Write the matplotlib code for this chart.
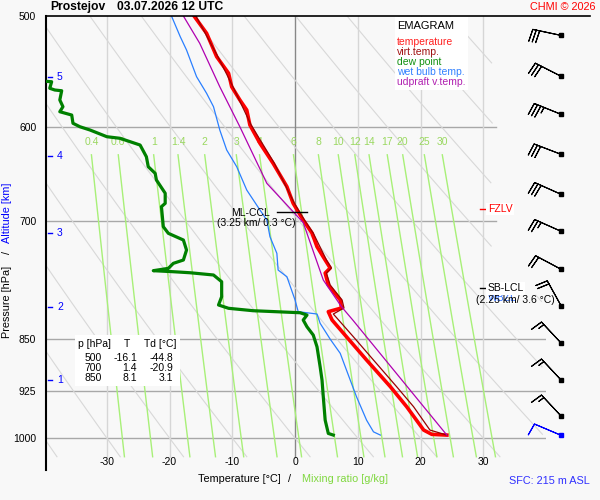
import numpy as np
import matplotlib
matplotlib.use('Agg')
import matplotlib.pyplot as plt
from matplotlib.lines import Line2D
from matplotlib.patches import Rectangle
from matplotlib.ticker import NullLocator

plt.rcParams['font.family'] = ['Liberation Sans', 'DejaVu Sans']

# temperature [C] vs pressure [hPa]
t_p = [500, 514.4, 534.5, 549.3, 561.6, 573.9, 583.5, 598.0, 616.2, 636.8, 661.7, 680.1, 699.0,
       714.1, 730.3, 746.4, 756.3, 762.6, 777.7, 797.1, 807.6, 812.5, 823.7, 846.7, 879.6,
       919.1, 949.8, 986.8, 993.8, 995.0]
t_val = [-16.1, -14.1, -12.5, -10.6, -10.1, -8.8, -7.7, -7.2, -5.6, -3.5, -1.3, -0.3, 1.3,
         2.7, 3.5, 4.8, 5.6, 4.8, 5.3, 7.2, 7.4, 5.3, 5.9, 8.2, 11.4,
         15.2, 17.8, 20.5, 21.8, 24.2]

# virtual temperature
tv_p = [500, 534.5, 561.6, 598.0, 636.8, 680.1, 699.0, 714.1, 746.4, 756.3, 762.6, 777.7,
        797.1, 807.6, 815.6, 846.7, 879.6, 919.1, 949.8, 986.8, 995.0]
tv_val = [-15.8, -12.3, -9.9, -7.0, -3.3, -0.1, 1.5, 2.9, 5.0, 5.8, 5.0, 5.6,
          7.5, 7.8, 6.1, 9.3, 12.5, 16.2, 18.9, 21.5, 24.2]

# dew point
td_p = [500, 556, 557.0, 563.0, 564.6, 565.3, 573.9, 580.3, 585.1, 588.3, 596.3, 599.7, 602.9,
        609.6, 611.2, 614.6, 618.0, 630.0, 640.4, 647.4, 654.5, 668.9, 680.1, 683.8, 706.7,
        714.4, 722.3, 734.3, 746.4, 750.5, 756.7, 759.6, 760.9, 762.2, 765.0, 773.5, 792.8,
        803.6, 808.0, 811.2, 813.9, 817.0, 823.7, 832.9, 844.3, 860.8, 889.6, 909.2, 934.4,
        970.9, 992.3, 995.0]
td_val = [-44.8, -41.0, -38.8, -39.1, -38.3, -37.2, -37.5, -37.0, -37.5, -35.6, -35.4, -34.3, -32.7,
          -30.0, -27.9, -26.3, -24.7, -23.7, -23.4, -22.3, -22.1, -20.7, -20.7, -21.3, -21.0,
          -20.2, -17.8, -17.3, -17.8, -19.4, -20.2, -22.6, -19.4, -16.7, -13.0, -11.7, -11.7,
          -12.2, -10.6, -6.7, 0.8, 1.9, 1.3, 1.9, 2.9, 3.5, 4.0, 4.3, 4.5,
          4.8, 5.3, 6.1]

# wet bulb temperature
tw_p = [500, 517.3, 528.7, 552.4, 567.7, 580.3, 602.9, 623.0, 640.4, 665.4, 687.5, 699.0, 718.4,
        738.3, 758.8, 767.2, 797.1, 812.5, 815.6, 828.2, 850.0, 870.0, 909.2, 934.4, 970.9,
        989.7, 995.0]
tw_val = [-19.7, -18.3, -17.3, -15.7, -14.1, -13.0, -12.0, -10.9, -9.3, -7.7, -5.6, -4.5, -4.0,
          -2.9, -2.7, -1.3, 0.0, 0.5, 3.5, 4.0, 5.6, 7.2, 8.8, 9.8, 11.4,
          12.5, 13.6]

# updraft virtual temperature (parcel)
tp_p = [500, 522.9, 561.6, 599.7, 658.1, 701.9, 771.3, 805.9, 823.7, 995.0]
tp_val = [-17.8, -15.2, -12.0, -8.8, -4.5, 1.3, 4.5, 7.4, 9.2, 24.2]

# wind (every 500 m + surface)
wind_p = [515.9, 551.7, 587.6, 627.6, 669.4, 711.8, 756.9, 805.3, 855.4, 908.9, 964.3, 995.0]
wind_dir = [282, 297, 292, 291, 294, 294, 298, 331, 317, 317, 317, 293]
wind_kt = [30, 30, 35, 30, 30, 25, 20, 20, 15, 15, 15, 10]

# altitude marks
alt_km = [1, 2, 3, 4, 5]
alt_p = [909.2, 806.5, 713.7, 629.4, 552.4]

# mixing ratio lines [g/kg]
mix_w = [0.4, 0.6, 1, 1.4, 2, 3, 4, 6, 8, 10, 12, 14, 17, 20, 25, 30]

p_ticks = [500, 600, 700, 850, 925, 1000]
iso_t = [-30, -20, -10, 0, 10, 20, 30]

tbl_p = [500, 700, 850]
tbl_t = [-16.1, 1.4, 8.1]
tbl_td = [-44.8, -20.9, 3.1]

T_LEFT, T_RIGHT = -39.7, 40.0
P_TOP, P_BOT = 500, 1053.7
P_LOW = 1031


def fx(px):
    return px / 600


def fy(py):
    return 1 - py / 500


fig = plt.figure(figsize=(6, 5), dpi=100, facecolor='#f8f8f8')
ax = fig.add_axes([fx(46), fy(470), 500 / 600, 454 / 500])
ax.set_facecolor('none')
ax.set_yscale('log')
ax.set_xlim(T_LEFT, T_RIGHT)
ax.set_ylim(P_BOT, P_TOP)
for s in ['top', 'right', 'bottom']:
    ax.spines[s].set_visible(False)
ax.spines['left'].set_linewidth(1.5)
ax.set_xticks([])
ax.set_yticks(p_ticks)
ax.set_yticklabels([str(p) for p in p_ticks])
ax.yaxis.set_minor_locator(NullLocator())
ax.tick_params(axis='y', length=0, pad=7, labelsize=7.5)

# isobars
for p in [600, 700]:
    ax.plot([T_LEFT, 32], [p, p], color='#a8a8a8', lw=1, zorder=1)
for p in [850, 925, 1000]:
    ax.plot([T_LEFT, T_RIGHT], [p, p], color='#a8a8a8', lw=1, zorder=1)

# isotherms
for t in iso_t:
    ax.plot([t, t], [P_TOP, P_LOW], color='#888888' if t == 0 else '#d6d6d6', lw=1, zorder=1)

# dry adiabats
pp = np.linspace(500, P_LOW, 200)
for t0 in range(-60, 160, 10):
    T = (t0 + 273.15) * (pp / 1000) ** 0.286 - 273.15
    lim = np.where(pp < 790, 31.5, 39.5)
    T = np.where(T <= lim, T, np.nan)
    ax.plot(T, pp, color='#d8d8d8', lw=0.8, zorder=1)

# mixing ratio lines
pm = np.linspace(628, P_LOW, 100)
for w in mix_w:
    e = w * pm / (622 + w)
    a = np.log(e / 6.112)
    td = 243.5 * a / (17.67 - a)
    ax.plot(td, pm, color='#a8f078', lw=1, zorder=1.5)
    ax.text(td[0], 615, f'{w:g}', ha='center', va='center', fontsize=7.5, color='#9ad860')

# profiles
ax.plot(tw_val, tw_p, color='#2a7fff', lw=0.9, zorder=3)
ax.plot(td_val, td_p, color='#008000', lw=2.3, zorder=3)
ax.plot(t_val, t_p, color='#ff0000', lw=2.6, zorder=3)
ax.plot(tv_val, tv_p, color='#990000', lw=0.9, zorder=3.5)
ax.plot(tp_val, tp_p, color='#b000b0', lw=0.9, zorder=4)

# altitude marks
ytr = ax.get_yaxis_transform()
for km, p in zip(alt_km, alt_p):
    ax.plot([0.003, 0.012], [p, p], transform=ytr, color='blue', lw=1, clip_on=False)
    ax.text(0.022, p, str(km), transform=ytr, ha='left', va='center', fontsize=7.5, color='blue')

# x tick labels
for t in iso_t:
    ax.text(t, 1040.5, str(t), ha='center', va='center', fontsize=7.5, clip_on=False)

# ML-CCL
ax.plot([-2.9, 1.9], [690.2, 690.2], color='black', lw=1, zorder=5)
ax.text(-10.2, 690.9, 'ML-CCL', ha='left', va='center', fontsize=7.5, zorder=5)
ax.text(-12.5, 702.6, '(3.25 km/ 0.3 °C)', ha='left', va='center', fontsize=7.5, zorder=5)

# FZLV
ax.plot([29.5, 30.5], [686.4, 686.4], color='red', lw=1, clip_on=False, zorder=5)
ax.text(30.7, 686.4, 'FZLV', ha='left', va='center', fontsize=7.5, color='red', zorder=5,
        bbox=dict(facecolor='white', edgecolor='none', pad=1))

# SB-LCL / WBZL
ax.text(30.8, 794.6, 'WBZL', ha='left', va='center', fontsize=7.5, color='#3070ff', zorder=5,
        bbox=dict(facecolor='white', edgecolor='none', pad=1))
ax.plot([29.5, 30.5], [781.9, 781.9], color='black', lw=1, clip_on=False, zorder=6)
ax.text(30.7, 781.9, 'SB-LCL', ha='left', va='center', fontsize=7.5, zorder=6,
        bbox=dict(facecolor='white', edgecolor='none', pad=1))
ax.text(28.9, 797.1, '(2.25 km/ 3.6 °C)', ha='left', va='center', fontsize=7.5, zorder=6)

# wind barbs
wx = np.full(len(wind_p), 42.4)
d = np.deg2rad(wind_dir)
u = -np.array(wind_kt) * np.sin(d)
v = -np.array(wind_kt) * np.cos(d)
for i in range(len(wind_p)):
    c = 'blue' if i == len(wind_p) - 1 else 'black'
    b = ax.barbs([wx[i]], [wind_p[i]], [u[i]], [v[i]], length=6.5, color=c, linewidth=0.8,
                 flip_barb=True,
                 sizes=dict(emptybarb=0, spacing=0.12, height=0.42, width=0.1))
    b.set_clip_on(False)
    ax.plot([wx[i]], [wind_p[i]], 's', ms=2.5, color=c, clip_on=False)

# legend box
fig.patches.append(Rectangle((fx(395), fy(90)), 73 / 600, 73 / 500, transform=fig.transFigure,
                             facecolor='white', edgecolor='none', zorder=1))
fig.text(fx(397), fy(26), 'EMAGRAM', fontsize=8, va='center', zorder=2)
leg = [('temperature', '#ff2020'), ('virt.temp.', '#a01010'), ('dew point', '#109010'),
       ('wet bulb temp.', '#3080ff'), ('udpraft v.temp.', '#b020b0')]
for i, (name, col) in enumerate(leg):
    fig.text(fx(397), fy(42 + 10 * i), name, fontsize=7.5, color=col, va='center', zorder=2)

# table
fig.patches.append(Rectangle((fx(75), fy(386)), 105 / 600, 51 / 500, transform=fig.transFigure,
                             facecolor='white', edgecolor='none', zorder=1))
fig.text(fx(78), fy(344), 'p [hPa]', fontsize=7.5, va='center', zorder=2)
fig.text(fx(127), fy(344), 'T', fontsize=7.5, va='center', ha='center', zorder=2)
fig.text(fx(144), fy(344), 'Td [°C]', fontsize=7.5, va='center', zorder=2)
for i in range(len(tbl_p)):
    yy = fy(358.3 + 10 * i)
    fig.text(fx(102), yy, str(tbl_p[i]), fontsize=7.5, va='center', ha='right', zorder=2)
    fig.text(fx(137), yy, f'{tbl_t[i]:.1f}', fontsize=7.5, va='center', ha='right', zorder=2)
    fig.text(fx(173.5), yy, f'{tbl_td[i]:.1f}', fontsize=7.5, va='center', ha='right', zorder=2)

# top line and titles
fig.add_artist(Line2D([fx(46), fx(590)], [fy(16), fy(16)], color='black', lw=1.2))
fig.text(fx(50), fy(7), 'Prostejov', fontsize=8.7, weight='bold', va='center')
fig.text(fx(117), fy(7), '03.07.2026 12 UTC', fontsize=8.7, weight='bold', va='center')
fig.text(fx(596), fy(7), 'CHMI © 2026', fontsize=7.8, color='red', ha='right', va='center')

# axis labels
fig.text(fx(281), fy(479), 'Temperature [°C]', fontsize=7.8, ha='right', va='center')
fig.text(fx(289), fy(479), '/', fontsize=7.8, ha='center', va='center')
fig.text(fx(302), fy(479), 'Mixing ratio [g/kg]', fontsize=7.8, ha='left', va='center', color='#80d840')
fig.text(fx(7), fy(301.5), 'Pressure [hPa]', fontsize=7.8, rotation=90, ha='center', va='center')
fig.text(fx(7), fy(252), '/', fontsize=7.8, rotation=90, ha='center', va='center')
fig.text(fx(7), fy(212.5), 'Altitude [km]', fontsize=7.8, rotation=90, ha='center', va='center', color='blue')
fig.text(fx(590), fy(481), 'SFC: 215 m ASL', fontsize=7.8, ha='right', va='center', color='#3030ff')

fig.savefig('out.png', dpi=100, facecolor=fig.get_facecolor())
